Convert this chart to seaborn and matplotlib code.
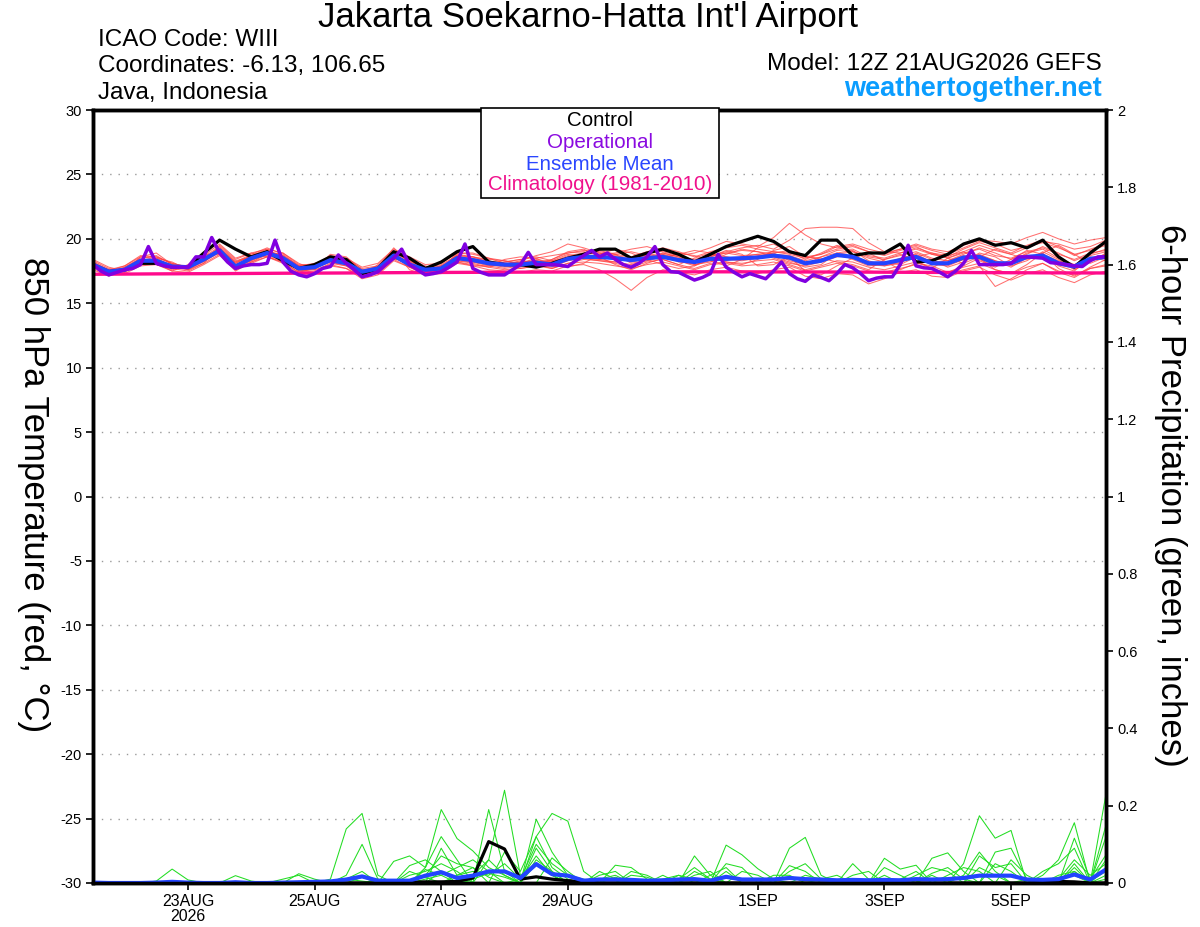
import numpy as np
import pandas as pd
import matplotlib
matplotlib.use("Agg")
import matplotlib.pyplot as plt
from matplotlib.patches import Rectangle
import seaborn as sns

# ---------------- data ----------------
start = "2026-08-21 12:00"
n6 = 65   # 6-hourly steps (0..384 h)
n3 = 129  # 3-hourly steps for operational run

control_temp = [18.0,17.45,17.6,18.1,18.1,17.8,17.8,18.9,19.9,19.2,
                18.6,19.0,18.3,17.7,18.0,18.6,18.4,17.3,17.7,19.0,
                18.5,17.7,18.2,19.0,19.4,18.2,18.0,18.0,17.8,18.1,
                18.5,18.8,19.2,19.2,18.5,18.9,19.2,18.8,18.2,18.8,
                19.4,19.8,20.2,19.8,19.0,18.7,19.9,19.9,18.7,18.9,
                18.9,19.6,18.2,18.3,18.8,19.6,20.0,19.5,19.7,19.3,
                19.9,18.6,17.8,18.9,19.8]

mean_temp = [18.0,17.45,17.6,18.3,18.3,17.85,17.8,18.4,19.1,17.85,
             18.5,18.9,18.5,17.7,17.8,18.35,18.1,17.45,17.7,18.7,
             18.0,17.6,17.7,18.5,18.35,18.1,18.0,18.0,18.15,18.0,
             18.45,18.6,18.6,18.5,18.35,18.5,18.6,18.35,18.2,18.45,
             18.45,18.5,18.55,18.7,18.55,18.1,18.3,18.75,18.6,18.1,
             18.1,18.35,18.6,18.1,18.1,18.55,18.6,18.1,18.1,18.6,
             18.7,18.1,17.85,18.45,18.6]

oper_temp = [18.0,17.5,17.2,17.4,17.6,17.7,18.0,19.4,18.1,17.9,17.8,17.8,17.8,
             18.6,18.6,20.1,18.9,18.2,17.7,17.9,18.0,18.0,18.1,19.9,18.2,17.5,
             17.2,17.05,17.3,17.7,17.85,18.75,18.1,17.6,17.05,17.2,17.45,18.0,18.5,
             19.2,18.0,17.6,17.2,17.3,17.45,17.8,18.2,19.6,17.7,17.4,17.2,17.2,
             17.2,17.6,18.0,18.95,18.0,18.0,18.0,17.95,17.85,18.3,18.7,19.1,18.6,
             18.9,18.4,18.0,17.8,18.1,18.6,19.4,18.0,17.45,17.4,17.1,16.8,17.0,
             17.3,18.8,17.8,17.4,17.05,17.3,17.1,16.9,17.5,18.2,17.3,16.9,16.7,
             17.2,17.0,16.75,17.3,18.0,17.75,17.3,16.75,16.95,17.05,17.05,18.0,19.5,
             17.9,17.75,17.7,17.4,17.05,17.5,18.1,19.1,18.0,18.0,18.0,18.0,18.1,
             18.6,18.6,18.55,18.5,18.15,18.1,18.0,17.9,17.85,18.3,18.6,18.6]

clim_temp = [17.25,17.28,17.3,17.33,17.35,17.38,17.4,17.42,17.43,
             17.44,17.44,17.43,17.42,17.4,17.38,17.36,17.35]  # daily

m01 = [18.2,17.6,17.4,18.6,18.9,18.0,17.7,18.3,19.3,18.1,18.7,19.2,18.4,17.5,17.6,18.6,18.3,17.2,17.5,19.0,18.3,17.4,17.5,18.8,18.6,18.3,17.9,17.8,18.4,18.2,18.7,18.9,19.1,18.8,18.1,18.3,18.9,18.6,18.0,18.2,18.8,19.2,19.0,18.6,18.2,17.8,18.0,18.9,19.1,18.3,17.9,18.1,18.9,18.4,17.8,18.2,18.9,18.6,17.9,18.3,19.0,18.4,17.6,18.2,18.9]
m02 = [17.8,17.3,17.7,18.1,18.0,17.6,17.9,18.6,19.0,17.7,18.3,19.1,18.7,17.9,17.9,18.2,17.9,17.0,17.8,18.9,17.8,17.5,17.9,18.3,18.1,17.8,18.2,18.4,18.0,17.7,18.1,18.4,18.3,18.2,18.6,18.9,18.4,18.0,18.5,18.9,18.2,18.0,18.4,19.1,19.4,18.6,18.5,18.2,18.0,17.6,18.4,18.8,18.3,17.7,18.5,19.0,18.3,17.8,18.4,19.1,18.8,17.9,17.5,18.6,18.3]
m03 = [18.4,17.8,17.5,18.0,18.5,18.2,17.6,18.1,19.5,18.4,18.9,18.6,18.2,17.4,17.7,18.8,18.6,17.6,17.3,18.4,18.4,17.9,17.6,18.9,18.9,18.5,18.1,17.7,17.9,18.4,19.0,19.2,18.6,18.0,17.6,18.1,18.5,18.9,18.7,18.3,17.9,18.4,19.3,19.6,19.0,18.4,18.9,19.5,19.0,18.5,18.2,18.0,18.6,18.9,18.5,18.1,18.6,19.2,18.8,18.4,18.9,19.5,18.8,18.1,18.6]
m04 = [17.6,17.1,17.8,18.4,18.1,17.5,18.0,18.8,18.8,17.5,18.2,18.8,18.9,18.1,17.6,18.0,17.7,17.1,18.0,19.1,17.6,17.2,17.8,18.2,17.9,17.9,18.4,18.6,18.5,17.9,17.8,18.1,18.8,19.2,18.9,18.4,18.0,17.7,17.9,18.6,19.1,18.8,17.9,18.0,18.6,17.5,17.2,17.9,18.5,18.9,18.3,17.6,18.1,17.9,17.4,17.9,18.5,17.6,17.3,18.0,18.9,17.7,17.1,17.8,18.4]
m05 = [18.1,17.5,17.9,18.7,18.6,18.1,17.8,18.5,19.2,18.2,18.8,19.3,18.8,17.9,18.1,18.5,18.4,17.7,17.9,18.8,18.2,17.8,18.0,18.7,18.6,18.4,18.3,18.1,18.5,18.7,18.9,19.0,18.8,18.9,19.2,19.4,19.0,18.7,18.9,19.3,19.8,19.6,19.4,20.1,21.2,20.3,19.6,19.3,19.5,19.0,18.7,19.1,19.4,18.8,18.6,19.2,19.7,19.3,18.9,19.5,19.9,19.4,18.7,19.2,19.6]
m06 = [17.9,17.4,17.6,18.2,18.4,17.9,17.7,18.2,19.0,18.0,18.6,19.0,18.6,17.8,17.8,18.4,18.1,17.3,17.6,18.6,18.1,17.7,17.8,18.6,18.5,18.2,18.0,18.2,18.3,18.1,18.6,18.8,18.9,18.7,18.5,18.7,18.9,18.6,18.4,18.7,19.0,19.3,19.5,19.2,19.9,20.8,20.9,20.9,20.8,19.7,19.0,18.9,19.3,18.9,18.7,19.0,19.5,19.1,18.8,19.3,19.8,19.6,19.2,19.4,19.9]
m07 = [17.7,17.2,17.3,17.9,18.0,17.5,17.4,18.0,18.7,17.6,18.1,18.6,18.1,17.3,17.4,17.9,17.7,16.9,17.2,18.3,17.8,17.2,17.3,18.1,17.9,17.6,17.5,17.4,17.6,17.5,17.9,18.0,17.6,16.9,16.0,17.0,17.6,17.4,17.2,17.6,17.8,17.5,17.3,17.6,17.8,17.1,16.9,17.3,17.2,16.5,16.9,17.4,17.6,17.1,17.0,17.5,17.8,17.2,16.8,17.3,17.6,17.0,16.6,17.2,17.5]
m08 = [18.3,17.7,17.5,18.3,18.2,17.7,17.9,18.6,19.4,18.3,18.6,18.8,18.4,17.6,17.9,18.5,18.2,17.4,17.8,19.3,18.1,17.6,17.9,18.4,18.3,18.0,17.8,18.0,18.2,18.3,18.8,18.5,18.4,18.6,18.2,18.4,18.8,18.3,17.9,18.4,18.6,18.4,18.7,18.9,18.3,18.0,18.6,18.9,18.4,17.9,18.0,18.5,18.8,18.2,18.3,18.7,18.4,17.9,18.2,18.9,19.2,18.5,18.0,18.7,19.0]
m09 = [17.9,17.5,17.8,18.5,18.7,18.0,17.6,18.4,19.2,18.0,18.4,19.0,18.6,17.5,17.7,18.3,18.2,17.5,17.6,18.5,18.0,17.4,17.6,18.6,18.2,18.0,18.1,18.2,18.3,18.0,18.3,18.7,18.7,18.4,18.3,18.6,18.7,18.2,18.1,18.5,18.3,18.6,18.8,18.5,18.1,17.9,18.2,18.6,18.7,18.2,18.0,18.3,18.5,18.0,17.9,18.4,18.8,18.3,17.8,18.5,18.6,18.0,17.7,18.3,18.7]
m10 = [18.0,17.4,17.7,18.4,18.3,17.8,17.9,18.5,19.1,18.1,18.7,19.1,18.5,17.8,17.9,18.6,18.4,17.6,17.8,18.9,18.3,17.8,17.9,18.7,18.6,18.2,18.0,18.3,18.7,19.0,19.6,19.3,18.9,18.6,18.3,18.8,19.1,18.8,18.3,18.6,18.9,19.1,19.0,18.8,18.7,18.3,18.6,19.1,19.2,18.6,18.4,18.7,19.0,18.5,18.3,18.8,19.3,18.9,18.4,18.8,19.4,18.9,18.3,18.8,19.2]
m11 = [18.1,17.6,17.6,18.2,18.4,17.9,17.7,18.3,18.9,17.8,18.4,18.7,18.3,17.6,17.7,18.2,18.0,17.3,17.6,18.6,17.9,17.5,17.6,18.3,18.2,17.9,17.7,17.9,18.0,17.8,18.3,18.5,18.3,18.1,17.8,18.2,18.4,18.0,17.7,18.1,18.2,18.1,18.3,18.4,18.0,17.6,17.9,18.3,18.2,17.8,17.6,17.9,18.2,17.7,17.3,17.6,17.9,16.3,16.9,17.6,18.1,17.4,17.0,17.7,18.0]
m12 = [18.2,17.5,17.4,18.1,18.3,18.0,17.9,18.7,19.6,18.5,18.9,19.2,18.9,18.0,18.0,18.7,18.5,17.8,18.1,19.2,18.6,18.0,18.1,18.9,18.8,18.5,18.3,18.0,18.1,18.4,18.9,19.1,19.0,18.8,18.6,19.0,19.3,19.0,18.6,19.0,19.3,19.5,19.2,19.0,18.8,18.5,18.8,19.4,19.6,19.2,18.9,19.2,19.5,19.1,18.8,19.3,19.8,19.6,19.1,19.4,19.7,19.3,18.8,19.1,19.5]
m13 = [17.8,17.3,17.5,18.0,18.2,17.7,17.5,18.1,18.8,17.7,18.2,18.6,18.2,17.4,17.5,18.1,17.9,17.2,17.4,18.4,17.8,17.3,17.4,18.2,18.0,17.8,17.6,17.7,17.9,17.7,18.1,18.2,18.1,17.9,17.7,18.0,18.2,17.9,17.6,18.0,18.1,17.9,18.0,18.2,17.9,17.5,17.8,18.1,17.9,17.5,17.4,17.7,18.0,17.6,17.4,17.8,18.1,17.6,17.3,17.8,18.1,17.5,17.2,17.7,17.9]
m14 = [18.0,17.6,17.9,18.6,18.5,17.9,17.8,18.4,19.0,17.9,18.5,19.0,18.7,17.9,17.9,18.4,18.2,17.5,17.9,18.8,18.1,17.7,17.8,18.6,18.4,18.2,18.2,18.4,18.6,18.3,18.5,18.6,18.5,18.8,19.0,18.7,18.5,18.8,19.1,18.9,18.6,18.4,18.6,18.9,19.1,18.6,18.4,18.8,19.0,18.7,18.5,18.9,19.2,18.8,18.5,18.9,19.2,18.7,18.5,19.0,19.3,18.8,18.4,18.9,19.1]
m15 = [18.1,17.5,17.6,18.3,18.6,18.1,17.8,18.5,19.3,18.2,18.6,18.9,18.4,17.6,17.8,18.4,18.2,17.4,17.7,18.7,18.0,17.5,17.7,18.5,18.3,18.0,17.9,18.0,18.1,18.2,18.5,18.6,18.4,18.2,18.0,18.3,18.6,18.3,18.0,18.3,18.4,18.3,18.5,18.7,18.4,18.1,18.3,18.7,18.5,18.0,17.9,18.2,18.6,18.2,18.0,18.4,18.7,18.3,18.0,18.5,18.8,18.3,17.9,18.4,18.8]
m16 = [17.9,17.4,17.6,18.2,18.3,17.8,17.6,18.3,19.0,17.9,18.3,18.8,18.4,17.6,17.7,18.3,18.1,17.4,17.6,18.6,17.9,17.5,17.7,18.4,18.3,18.0,17.9,18.1,18.3,18.1,18.5,18.7,18.6,18.4,18.3,18.6,18.8,18.5,18.3,18.7,18.9,18.7,18.8,19.0,18.9,18.6,18.8,19.2,19.4,19.0,18.8,19.2,19.6,19.2,19.0,19.5,19.9,19.8,19.6,20.1,20.5,20.0,19.6,19.9,20.1]
member_temps = [m01, m02, m03, m04, m05, m06, m07, m08, m09, m10, m11, m12, m13, m14, m15, m16]

control_precip = [0,0,0,0,0,0,0,0,0,0,0,0,0,
                  0,0,0,0,0,0,0,.002,.003,.003,.004,.013,.107,
                  .088,.01,.016,.01,.006,.003,0,0,0,0,0,0,0,
                  0,0,0,0,0,0,0,0,0,0,0,0,0,
                  0,0,0,0,0,0,0,0,.002,.004,.003,0,0]
mean_precip = [.001,0,0,0,.001,.003,.001,0,0,.002,0,0,.001,
               .002,.003,.004,.009,.017,.006,.006,.006,.019,.028,.013,.019,.03,
               .03,.013,.049,.023,.019,.006,.009,.009,.008,.006,.007,.009,.01,
               .006,.016,.009,.009,.009,.013,.01,.009,.007,.008,.007,.008,.007,
               .01,.009,.01,.013,.019,.019,.019,.009,.008,.01,.022,.009,.035]

p01 = [0,0,0,0,.005,.036,.008,0,0,0,0,0,0,
       0,0,.01,.14,.18,.02,0,0,0,.03,.01,0,0,
       0,0,.12,.04,.01,0,0,0,0,0,0,0,0,
       0,.098,.073,.037,.01,0,0,0,0,0,0,0,0,
       0,0,0,0,0,0,0,0,.02,.06,.156,0,.23]
p02 = [0,0,0,0,0,0,0,0,0,.019,.005,0,0,
       0,0,0,.02,.10,.01,0,0,.04,.19,.115,.083,.04,
       .02,0,0,.065,.03,0,0,0,0,0,0,0,.07,
       .02,0,0,0,0,.09,.118,.02,0,0,0,0,0,
       0,0,0,.05,.174,.116,.136,0,0,0,.03,0,.15]
p03 = [0,0,0,0,0,0,0,0,0,0,0,0,0,
       .024,.01,0,0,0,0,.056,.07,.04,.12,.06,0,.19,
       .03,0,.165,.08,.02,0,0,.046,.04,.01,0,0,0,
       0,0,0,0,0,0,0,0,0,.05,.01,0,0,
       0,.064,.078,.03,0,.08,.09,.01,0,0,.116,.01,.073]
p04 = [0,0,0,0,0,0,0,0,0,0,0,0,.01,
       .02,0,0,0,0,.01,0,.045,.06,.03,0,.02,.06,
       .24,.02,.05,.02,0,0,0,0,0,0,0,.01,.04,
       .01,0,0,0,0,0,0,0,0,0,0,.064,.036,
       .046,0,0,0,0,0,0,0,0,.01,.06,.02,.05]
p05 = [0,0,0,0,0,0,0,0,0,0,0,0,0,
       0,0,0,.01,.03,0,0,0,.02,.07,.05,.04,0,
       .08,.03,.12,.18,.16,.03,0,0,.03,.02,0,0,0,
       0,.05,.04,0,0,.045,.03,0,0,0,0,0,0,
       .02,.04,.03,0,.07,.04,.05,0,.03,.05,.09,0,.12]
p06 = [0,0,0,0,0,0,0,0,0,0,0,0,0,
       0,0,0,0,0,0,0,.02,.03,.05,.03,0,.06,
       .02,0,.09,.03,0,0,.01,.02,0,0,.01,.02,0,
       0,.03,0,0,0,0,0,.01,.02,0,0,.04,.02,
       0,0,0,.02,.08,.03,0,0,0,0,0,.005,.03]
p07 = [0,0,0,0,0,0,0,0,0,0,0,0,0,
       0,0,0,0,0,0,0,0,.01,.02,.04,.06,.03,
       0,.01,.1,.05,.02,.01,0,0,.02,.015,0,0,.03,
       .01,0,.03,.02,0,0,0,0,0,.02,.03,0,0,
       0,.025,.04,.01,0,0,.06,.02,0,0,.05,0,.02]
p08 = [0,0,0,0,0,0,0,0,.003,0,0,0,0,
       0,0,0,0,.015,0,0,0,0,.09,.02,.03,.02,
       .05,.01,.07,.02,0,0,.02,.03,0,0,0,.02,.01,
       0,0,0,0,0,.03,.05,.01,0,0,0,0,.01,
       .03,0,0,0,0,.05,.03,0,0,0,.04,0,.01]
p09 = [0,0,0,0,0,0,0,0,0,0,0,0,0,
       0,0,0,0,0,0,0,0,.035,.02,0,.01,.025,
       .015,0,.06,.03,0,.005,0,.015,0,0,.02,0,0,
       .02,.04,0,0,.02,.02,0,0,0,0,0,.02,0,
       0,0,.02,.04,.03,0,0,.01,0,.02,.03,0,.06]
p10 = [0,0,0,0,0,0,0,0,0,0,0,0,0,
       0,0,0,.01,.005,0,0,.03,.015,0,.02,.04,.015,
       0,0,.05,.02,0,0,.03,.01,0,0,0,0,.02,
       .03,0,0,0,0,0,.02,.01,0,0,.01,0,0,
       0,.02,0,0,.04,.02,0,0,0,.015,.02,0,.04]
member_precips = [p01, p02, p03, p04, p05, p06, p07, p08, p09, p10]

temp_ticks = [-30, -25, -20, -15, -10, -5, 0, 5, 10, 15, 20, 25, 30]
precip_ticks = [0, 0.2, 0.4, 0.6, 0.8, 1, 1.2, 1.4, 1.6, 1.8, 2]
precip_ticklabels = ["0", "0.2", "0.4", "0.6", "0.8", "1", "1.2", "1.4", "1.6", "1.8", "2"]
date_ticks = ["2026-08-23", "2026-08-25", "2026-08-27", "2026-08-29",
              "2026-09-01", "2026-09-03", "2026-09-05"]
date_labels = ["23AUG\n2026", "25AUG", "27AUG", "29AUG", "1SEP", "3SEP", "5SEP"]

# sanity checks
for name, arr in [("control_temp", control_temp), ("mean_temp", mean_temp),
                  ("control_precip", control_precip), ("mean_precip", mean_precip)]:
    if len(arr) != n6:
        raise ValueError(f"{name} has {len(arr)}")
for k, arr in enumerate(member_temps):
    if len(arr) != n6:
        raise ValueError(f"temp member {k+1} has {len(arr)}")
for k, arr in enumerate(member_precips):
    if len(arr) != n6:
        raise ValueError(f"precip member {k+1} has {len(arr)}")
if len(oper_temp) != n3:
    raise ValueError(f"oper has {len(oper_temp)}")

# ---------------- frames ----------------
t6 = pd.date_range(start, periods=n6, freq="6h")
t3 = pd.date_range(start, periods=n3, freq="3h")
t24 = pd.date_range(start, periods=len(clim_temp), freq="24h")

df_mt = pd.concat([pd.DataFrame({"time": t6, "value": v, "member": k})
                   for k, v in enumerate(member_temps)], ignore_index=True)
df_mp = pd.concat([pd.DataFrame({"time": t6, "value": v, "member": k})
                   for k, v in enumerate(member_precips)], ignore_index=True)

# ---------------- style ----------------
sns.set_style("ticks")
plt.rcParams["font.family"] = ["Liberation Sans", "DejaVu Sans"]
plt.rcParams["text.color"] = "black"
plt.rcParams["axes.labelcolor"] = "black"
plt.rcParams["xtick.color"] = "black"
plt.rcParams["ytick.color"] = "black"

W, H = 1200, 927
fig = plt.figure(figsize=(W / 100, H / 100), dpi=100)
L, R, T, B = 93, 1106, 110, 883
ax = fig.add_axes([L / W, 1 - B / H, (R - L) / W, (B - T) / H])
ax2 = ax.twinx()

def fx(x):
    return x / W

def fy(y):
    return 1 - y / H

# temperature
sns.lineplot(data=df_mt, x="time", y="value", units="member", estimator=None,
             color="#ff4040", lw=0.75, alpha=0.75, ax=ax, legend=False)
sns.lineplot(x=t24, y=clim_temp, color="#ff0a8c", lw=2.4, ax=ax)
sns.lineplot(x=t6, y=control_temp, color="black", lw=2.3, ax=ax)
sns.lineplot(x=t6, y=mean_temp, color="#2244ff", lw=3.0, ax=ax)
sns.lineplot(x=t3, y=oper_temp, color="#8000e0", lw=2.5, ax=ax)

# precipitation
sns.lineplot(data=df_mp, x="time", y="value", units="member", estimator=None,
             color="#22dd22", lw=0.75, ax=ax2, legend=False)
sns.lineplot(x=t6, y=control_precip, color="black", lw=2.3, ax=ax2)
sns.lineplot(x=t6, y=mean_precip, color="#2244ff", lw=3.0, ax=ax2)

ax.set_ylim(-30, 30)
ax2.set_ylim(0, 2)
ax.set_xlim(t6[0], t6[-1])

ax.set_yticks(temp_ticks)
ax.set_yticklabels([str(v) for v in temp_ticks], fontsize=10.5, color="black")
ax2.set_yticks(precip_ticks)
ax2.set_yticklabels(precip_ticklabels, fontsize=10.5, color="black")
ax.set_xticks(pd.to_datetime(date_ticks))
ax.set_xticklabels(date_labels, fontsize=11.5, linespacing=1.0, color="black")
ax.tick_params(axis="both", direction="out", length=5, width=1.2, colors="black", pad=3)
ax2.tick_params(axis="y", direction="out", length=5, width=1.2, colors="black", pad=3)
for a in (ax, ax2):
    a.set_xlabel("")
    a.set_ylabel("")
ax.yaxis.grid(True, linestyle=(0, (1, 5)), color="#999999", lw=1.0)
ax.xaxis.grid(False)
ax2.grid(False)
for a in (ax, ax2):
    for s in a.spines.values():
        s.set_linewidth(2.5)
        s.set_color("black")
        s.set_visible(True)

# axis titles
fig.text(fx(33), fy(495), "850 hPa Temperature (red, °C)", rotation=270,
         ha="center", va="center", fontsize=25)
fig.text(fx(1170), fy(495), "6-hour Precipitation (green, inches)", rotation=270,
         ha="center", va="center", fontsize=25)

# header texts
fig.text(fx(588), fy(18), "Jakarta Soekarno-Hatta Int'l Airport", ha="center",
         va="center", fontsize=25)
fig.text(fx(98), fy(40), "ICAO Code: WIII", ha="left", va="center", fontsize=17.5)
fig.text(fx(98), fy(66), "Coordinates: -6.13, 106.65", ha="left", va="center", fontsize=17.5)
fig.text(fx(98), fy(93), "Java, Indonesia", ha="left", va="center", fontsize=17.5)
fig.text(fx(1102), fy(64), "Model: 12Z 21AUG2026 GEFS", ha="right", va="center", fontsize=17.5)
fig.text(fx(1102), fy(89), "weathertogether.net", ha="right", va="center",
         fontsize=19.5, fontweight="bold", color="#0a9dff")

# legend box
fig.patches.append(Rectangle((fx(481), fy(198)), (719 - 481) / W, (198 - 108) / H,
                             transform=fig.transFigure, fill=True, facecolor="white",
                             edgecolor="black", lw=1.2, zorder=5))
leg_items = [("Control", "black", 121), ("Operational", "#8a0ae0", 142),
             ("Ensemble Mean", "#2a46ff", 164), ("Climatology (1981-2010)", "#f0108c", 185)]
for txt, col, yy in leg_items:
    fig.text(fx(600), fy(yy), txt, ha="center", va="center", fontsize=14.8, color=col, zorder=6)

fig.savefig("out.png", dpi=100)
